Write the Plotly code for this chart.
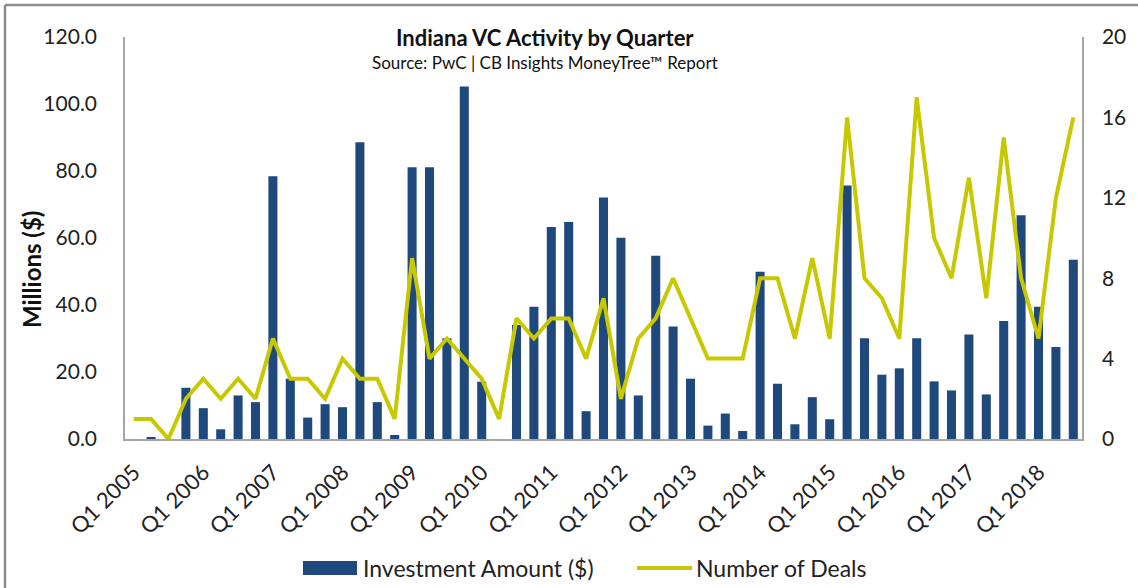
import plotly.graph_objects as go

# Categories: Q1 2005 .. Q3 2018 (55 quarters)
years = list(range(2005, 2019))
quarters = [f"Q{q} {y}" for y in years for q in (1, 2, 3, 4)][:55]

investment = [
    0.0, 0.5, 0.0, 15.3, 9.2, 2.9, 13.0, 11.0, 78.4, 18.0, 6.4, 10.4, 9.5, 88.6,
    11.0, 1.2, 81.1, 81.1, 30.1, 105.2, 17.1, 0.0, 34.0, 39.5, 63.3, 64.8, 8.3,
    72.1, 60.1, 13.0, 54.7, 33.6, 18.0, 4.0, 7.6, 2.4, 49.9, 16.5, 4.4, 12.5, 5.9,
    75.7, 30.1, 19.2, 21.1, 30.1, 17.2, 14.5, 31.2, 13.3, 35.2, 66.8, 39.5, 27.5,
    53.5,
]
deals = [
    1, 1, 0, 2, 3, 2, 3, 2, 5, 3, 3, 2, 4, 3, 3,
    1, 9, 4, 5, 4, 3, 1, 6, 5, 6, 6, 4, 7, 2,
    5, 6, 8, 6, 4, 4, 4, 8, 8, 5, 9, 5, 16, 8, 7,
    5, 17, 10, 8, 13, 7, 15, 8, 5, 12, 16,
]
tick_labels = ["Q1 2005", "Q1 2006", "Q1 2007", "Q1 2008", "Q1 2009", "Q1 2010",
               "Q1 2011", "Q1 2012", "Q1 2013", "Q1 2014", "Q1 2015", "Q1 2016",
               "Q1 2017", "Q1 2018"]
left_ticks = [0, 20, 40, 60, 80, 100, 120]
right_ticks = [0, 4, 8, 12, 16, 20]
series_names = ["Investment Amount ($)", "Number of Deals"]

FONT = "Lato"
BAR = "#1F497D"
LINE = "#C8C800"
AXIS = "#A6A6A6"
TXT = "#222222"

# plot area in pixels
L, R, T, B = 125, 1082, 37, 439
W, H = R - L, B - T


def px(x):
    return (x - L) / W


def py(y):
    return (B - y) / H


fig = go.Figure()
fig.add_trace(go.Bar(
    x=quarters, y=investment, name=series_names[0],
    marker=dict(color=BAR, line=dict(width=0)), yaxis="y", showlegend=False,
))
fig.add_trace(go.Scatter(
    x=quarters, y=deals, name=series_names[1], mode="lines",
    line=dict(color=LINE, width=4), yaxis="y2", showlegend=False,
))

annotations = [
    dict(text="<b>Indiana VC Activity by Quarter</b>", xref="paper", yref="paper",
         x=px(545), y=py(37), yanchor="middle", xanchor="center", showarrow=False,
         font=dict(family=FONT, size=22, color="#111111")),
    dict(text="Source: PwC | CB Insights MoneyTree\u2122 Report", xref="paper", yref="paper",
         x=px(545), y=py(62), yanchor="middle", xanchor="center", showarrow=False,
         font=dict(family=FONT, size=17, color="#111111")),
    dict(text="<b>Millions ($)</b>", xref="paper", yref="paper", x=px(31), y=py(270),
         xanchor="center", yanchor="middle", textangle=-90, showarrow=False,
         font=dict(family=FONT, size=24, color="#111111")),
    dict(text=series_names[0], xref="paper", yref="paper", x=px(361), y=py(568),
         xanchor="left", yanchor="middle", showarrow=False,
         font=dict(family=FONT, size=23, color=TXT)),
    dict(text=series_names[1], xref="paper", yref="paper", x=px(694), y=py(568),
         xanchor="left", yanchor="middle", showarrow=False,
         font=dict(family=FONT, size=23, color=TXT)),
]

shapes = [
    dict(type="line", xref="paper", yref="paper", x0=px(5), x1=px(1140), y0=py(5), y1=py(5),
         line=dict(color="#8C8C8C", width=2.5)),
    dict(type="line", xref="paper", yref="paper", x0=px(5), x1=px(5), y0=py(5), y1=py(600),
         line=dict(color="#8C8C8C", width=2.5)),
    # legend keys
    dict(type="rect", xref="paper", yref="paper", x0=px(303), x1=px(357), y0=py(575), y1=py(561),
         fillcolor=BAR, line=dict(width=0)),
    dict(type="line", xref="paper", yref="paper", x0=px(637), x1=px(692), y0=py(568), y1=py(568),
         line=dict(color=LINE, width=4)),
]

fig.update_layout(
    width=1138, height=588,
    margin=dict(l=L, r=1138 - R, t=T, b=588 - B, autoexpand=False),
    paper_bgcolor="white", plot_bgcolor="white",
    bargap=0.48,
    font=dict(family=FONT, size=20, color=TXT),
    showlegend=False,
    xaxis=dict(
        type="category", categoryorder="array", categoryarray=quarters,
        tickmode="array", tickvals=tick_labels, ticktext=tick_labels,
        tickangle=-45, showline=True, linecolor=AXIS, linewidth=1.5,
        showgrid=False, ticks="", automargin=False, ticklabelstandoff=10,
        tickfont=dict(family=FONT, size=22, color=TXT), zeroline=False,
    ),
    yaxis=dict(
        range=[0, 120], tickvals=left_ticks, tickformat=".1f", automargin=False,
        showline=True, linecolor=AXIS, linewidth=1.5, showgrid=False, zeroline=False,
        ticks="", ticklabelstandoff=22,
        tickfont=dict(family=FONT, size=21, color=TXT),
    ),
    yaxis2=dict(
        range=[0, 20], tickvals=right_ticks, overlaying="y", side="right", automargin=False,
        showline=True, linecolor=AXIS, linewidth=1.5, showgrid=False, zeroline=False,
        ticks="", ticklabelstandoff=14,
        tickfont=dict(family=FONT, size=21, color=TXT),
    ),
    annotations=annotations,
    shapes=shapes,
)

fig.write_html("out.html")
